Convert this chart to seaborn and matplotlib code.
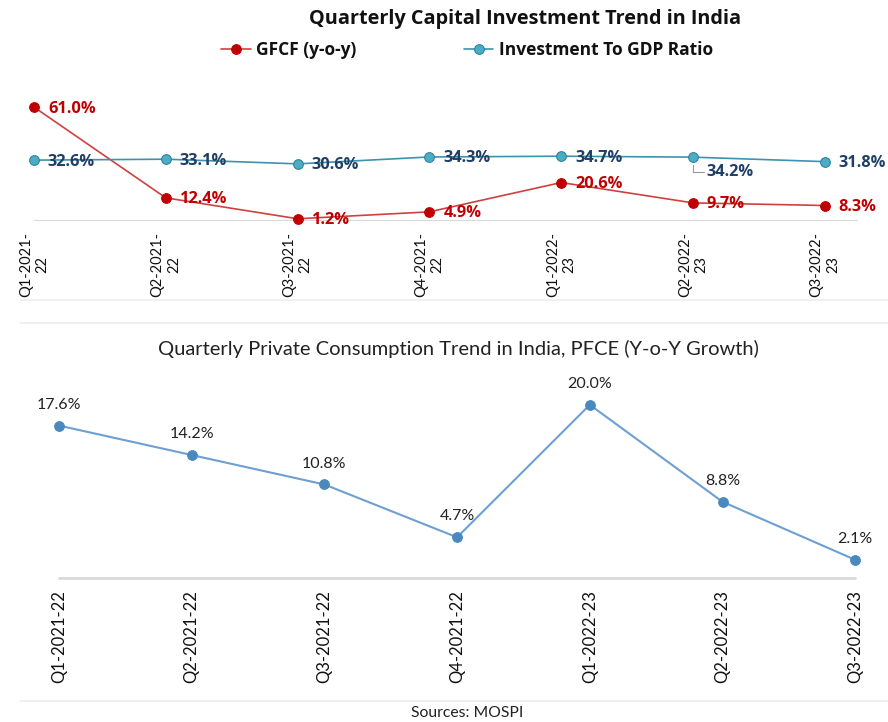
import matplotlib
matplotlib.use("Agg")
import matplotlib.pyplot as plt
import seaborn as sns
import pandas as pd

sns.set_theme(style="white")
plt.rcParams['font.family'] = ['Lato', 'DejaVu Sans']

quarters_top = ["Q1-2021-\n22", "Q2-2021-\n22", "Q3-2021-\n22", "Q4-2021-\n22",
                "Q1-2022-\n23", "Q2-2022-\n23", "Q3-2022-\n23"]
quarters_bottom = ["Q1-2021-22", "Q2-2021-22", "Q3-2021-22", "Q4-2021-22",
                   "Q1-2022-23", "Q2-2022-23", "Q3-2022-23"]
gfcf = [61.0, 12.4, 1.2, 4.9, 20.6, 9.7, 8.3]
inv_gdp = [32.6, 33.1, 30.6, 34.3, 34.7, 34.2, 31.8]
pfce = [17.6, 14.2, 10.8, 4.7, 20.0, 8.8, 2.1]

W, H = 888, 722
fig = plt.figure(figsize=(W / 100, H / 100), dpi=100)

def px_axes(left, top, right, bottom):
    return fig.add_axes([left / W, 1 - bottom / H, (right - left) / W, (bottom - top) / H])

BOLD = ['Open Sans', 'DejaVu Sans']
RED = "#C00000"
TEAL_LINE = "#3C93AE"
TEAL_MK = "#4BACC6"
TEAL_TXT = "#1F3F66"

# ---------- Top chart ----------
step_t = 131.8
ax1 = px_axes(34, 221 - 65 * 1.867, 34 + 6.25 * step_t, 221)
df_top = pd.DataFrame({"x": range(len(quarters_top)), "gfcf": gfcf, "inv": inv_gdp})
sns.lineplot(data=df_top, x="x", y="gfcf", ax=ax1, color="#D04040", lw=1.2,
             marker="o", markersize=7, markerfacecolor=RED, markeredgecolor=RED,
             clip_on=False, label="GFCF (y-o-y)", zorder=3)
sns.lineplot(data=df_top, x="x", y="inv", ax=ax1, color=TEAL_LINE, lw=1.2,
             marker="o", markersize=7, markerfacecolor=TEAL_MK, markeredgecolor="#2F7F99",
             clip_on=False, label="Investment To GDP Ratio", zorder=3)
ax1.set_xlim(0, 6.25)
ax1.set_ylim(0, 65)
ax1.axhline(0, color="#D9D9D9", lw=1.5, zorder=1)
for s in ax1.spines.values():
    s.set_visible(False)
ax1.set_yticks([])
ax1.set_ylabel("")
ax1.set_xlabel("")
ax1.set_xticks(range(len(quarters_top)))
ax1.set_xticklabels(quarters_top, rotation=90, fontsize=10.5, color="#111111",
                    multialignment="center")
ax1.tick_params(axis="x", length=0, pad=8)

LBL = 11.8
for i, v in enumerate(gfcf):
    ax1.annotate(f"{v:.1f}%", (i, v), xytext=(10, -1), textcoords="offset points",
                 ha="left", va="center", fontsize=LBL, fontweight="bold", color=RED,
                 family=BOLD, annotation_clip=False)
for i, v in enumerate(inv_gdp):
    if i == 5:
        ax1.annotate(f"{v:.1f}%", (i, v), xytext=(10, -11), textcoords="offset points",
                     ha="left", va="center", fontsize=LBL, fontweight="bold", color=TEAL_TXT,
                     family=BOLD, annotation_clip=False,
                     arrowprops=dict(arrowstyle="-", color="#999999", lw=0.8,
                                     connectionstyle="angle,angleA=0,angleB=90,rad=0",
                                     shrinkA=0, shrinkB=6))
    else:
        ax1.annotate(f"{v:.1f}%", (i, v), xytext=(10, -1), textcoords="offset points",
                     ha="left", va="center", fontsize=LBL, fontweight="bold", color=TEAL_TXT,
                     family=BOLD, annotation_clip=False)

leg = ax1.legend(loc="center", bbox_to_anchor=(467 / W, 1 - 50 / H),
                 bbox_transform=fig.transFigure, ncol=2, frameon=False,
                 prop={"weight": "bold", "size": 12.5, "family": BOLD}, columnspacing=6.2,
                 handlelength=1.7, handletextpad=0.3)
for t in leg.get_texts():
    t.set_color("#111111")

fig.text(525 / W, 1 - 19 / H, "Quarterly Capital Investment Trend in India",
         ha="center", va="center", fontsize=14.3, fontweight="bold", color="#111111",
         family=BOLD)

# separators
for yy in (300, 323, 701):
    fig.add_artist(plt.Line2D([20 / W, 1], [1 - yy / H, 1 - yy / H],
                              color="#EDEDED", lw=1.2, transform=fig.transFigure))

# ---------- Bottom chart ----------
step_b = 132.7
ax2 = px_axes(59, 578 - 22 * 8.66, 59 + 6 * step_b, 578)
df_b = pd.DataFrame({"x": range(len(quarters_bottom)), "pfce": pfce})
sns.lineplot(data=df_b, x="x", y="pfce", ax=ax2, color="#6E9FD3", lw=1.5,
             marker="o", markersize=7, markerfacecolor="#4A89BE", markeredgecolor="#4A89BE",
             clip_on=False, zorder=3)
ax2.set_xlim(0, 6)
ax2.set_ylim(0, 22)
ax2.axhline(0, color="#D9D9D9", lw=2, zorder=1, clip_on=False)
for s in ax2.spines.values():
    s.set_visible(False)
ax2.set_yticks([])
ax2.set_ylabel("")
ax2.set_xlabel("")
ax2.set_xticks(range(len(quarters_bottom)))
ax2.set_xticklabels(quarters_bottom, rotation=90, fontsize=12, color="#111111")
ax2.tick_params(axis="x", length=0, pad=9)
for i, v in enumerate(pfce):
    ax2.annotate(f"{v:.1f}%", (i, v), xytext=(0, 15), textcoords="offset points",
                 ha="center", va="center", fontsize=11.5, color="#222222",
                 annotation_clip=False)

fig.text(458 / W, 1 - 349 / H,
         "Quarterly Private Consumption Trend in India, PFCE (Y-o-Y Growth)",
         ha="center", va="center", fontsize=14.5, color="#222222")
fig.text(467 / W, 1 - 713 / H, "Sources: MOSPI", ha="center", va="center",
         fontsize=11.3, color="#222222")

fig.savefig("out.png", dpi=100, facecolor="white")
